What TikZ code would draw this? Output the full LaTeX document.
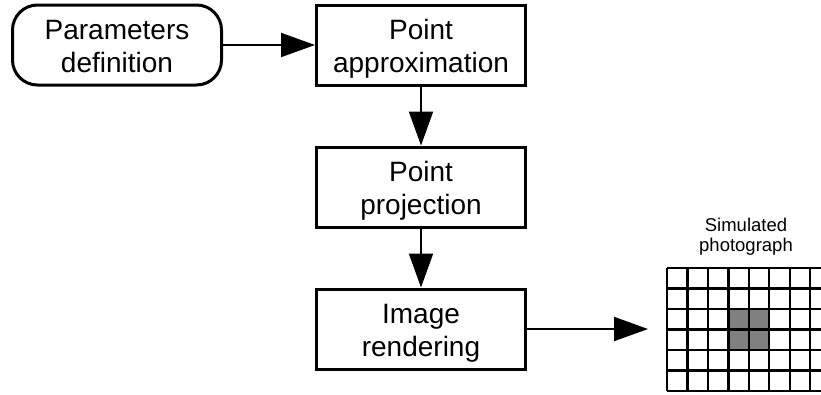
\documentclass[tikz,border=0pt]{standalone}
\usepackage{fontspec}
\setmainfont{Liberation Sans}
\usetikzlibrary{arrows.meta}
\newcommand{\twolines}[2]{\raisebox{-4.5pt}[\height][\depth]{\begin{tabular}{@{}c@{}}#1\\#2\end{tabular}}}
\begin{document}
\begin{tikzpicture}[x=1pt,y=-1pt,
  box/.style={draw, line width=3pt, minimum width=209pt, minimum height=80pt, inner sep=0pt, align=center, font=\fontsize{28}{32.5}\selectfont},
  flow/.style={line width=2pt, -{Triangle[length=34pt,width=24pt]}},
  gridline/.style={line width=2.4pt}]
\clip (0,0) rectangle (821,394);
\fill[white] (0,0) rectangle (821,394);
\node[box, rounded corners=25pt] (params) at (117,45) {\twolines{Parameters}{definition}};
\node[box] (approx) at (421,45) {\twolines{Point}{approximation}};
\node[box] (proj) at (421,187) {\twolines{Point}{projection}};
\node[box] (render) at (421,329) {\twolines{Image}{rendering}};
% simulated photograph
\node[align=center, font=\fontsize{18.5}{20}\selectfont, inner sep=0pt] (label) at (746,237) {Simulated\\photograph};
\fill[black!50] (728.3,309.6) rectangle (768.9,350.6);
\foreach \i in {0,...,8} {
  \draw[gridline] (667+\i*20.45,268) -- (667+\i*20.45,391);
}
\foreach \j in {0,...,6} {
  \draw[gridline] (667,268+\j*20.5) -- (840,268+\j*20.5);
}
\coordinate (photo) at (648,329);
\draw[flow] (params) -- (approx);
\draw[flow] (approx) -- (proj);
\draw[flow] (proj) -- (render);
\draw[flow] (render.east) -- (photo);
\end{tikzpicture}
\end{document}
